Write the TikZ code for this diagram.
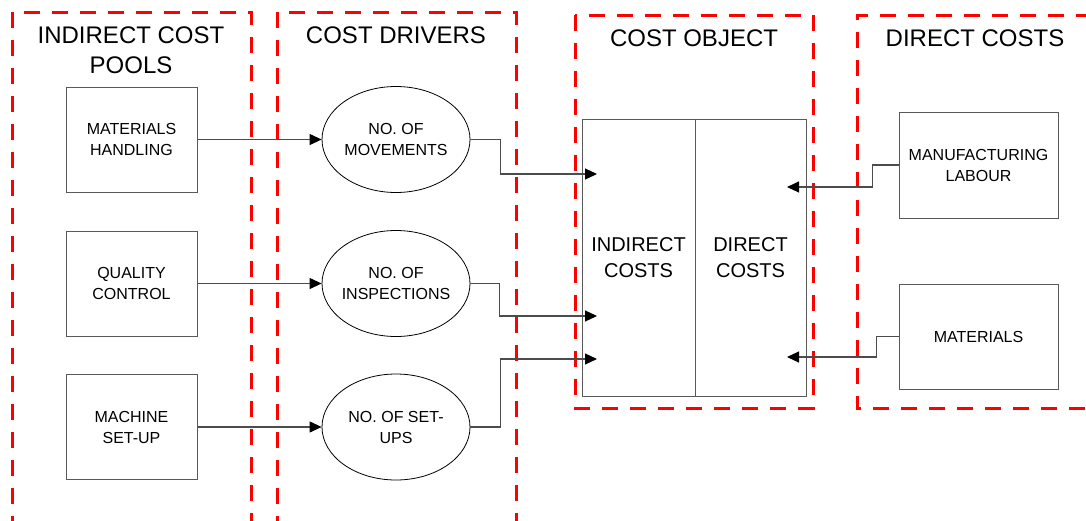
\documentclass[tikz,border=0pt]{standalone}
\usepackage{fontspec}
\setmainfont{Liberation Sans}
\usetikzlibrary{arrows.meta,shapes.geometric}
\begin{document}
\begin{tikzpicture}[x=1pt,y=-1pt,
  zone/.style={draw=red,line width=3pt,dash pattern=on 16pt off 12pt},
  box/.style={draw=black!65,line width=1pt,minimum width=131pt,minimum height=105pt,align=center,inner sep=0pt,font=\fontsize{16}{21}\selectfont},
  oval/.style={draw=black,line width=0.8pt,ellipse,minimum width=148pt,minimum height=106pt,inner xsep=-4pt,inner ysep=0pt,align=center,font=\fontsize{16}{21}\selectfont},
  half/.style={draw=black!65,line width=1pt,minimum height=277pt,align=center,inner sep=0pt,font=\fontsize{20}{26}\selectfont},
  conn/.style={draw=black!70,line width=1.1pt,-{Triangle[length=12pt,width=11pt,color=black]}},
  title/.style={font=\fontsize{24}{30}\selectfont,align=center,inner sep=0pt}]
\useasboundingbox (0,0) rectangle (1086,520);
\clip (0,0) rectangle (1086,520);
\fill[white] (0,0) rectangle (1086,520);
% zones
\draw[zone] (12,560) -- (12,12) -- (251,12) -- (251,560);
\draw[zone] (277,560) -- (277,12) -- (516,12) -- (516,560);
\draw[zone] (575,15) rectangle (813,408);
\draw[zone] (1120,15) -- (857,15) -- (857,408) -- (1120,408);
% titles
\node[title] (t1) at (131,50) {INDIRECT COST\\POOLS};
\node[title] (t2) at (396,35) {COST DRIVERS};
\node[title] (t3) at (694,38) {COST OBJECT};
\node[title] (t4) at (975,38) {DIRECT COSTS};
% pools
\node[box] (r1) at (131.5,139.5) {MATERIALS\\HANDLING};
\node[box] (r2) at (131.5,283.5) {QUALITY\\CONTROL};
\node[box] (r3) at (131.5,427) {MACHINE\\SET-UP};
% drivers
\node[oval] (e1) at (396,139.5) {NO. OF\\MOVEMENTS};
\node[oval] (e2) at (396,283.5) {NO. OF\\INSPECTIONS};
\node[oval] (e3) at (396,427) {NO. OF SET-\\UPS};
% cost object
\node[half,minimum width=113pt] (ind) at (638.5,257.5) {INDIRECT\\COSTS};
\node[half,minimum width=111pt] (dir) at (750.5,257.5) {DIRECT\\COSTS};
% direct costs
\node[box,minimum width=159pt,minimum height=106pt] (ml) at (978.5,165) {MANUFACTURING\\LABOUR};
\node[box,minimum width=159pt,minimum height=105pt] (mat) at (978.5,336.5) {MATERIALS};
% arrow targets
\coordinate (a1) at (597,174);
\coordinate (a2) at (597,316);
\coordinate (a3) at (597,359);
\coordinate (b1) at (787,187);
\coordinate (b2) at (787,357);
% connectors
\draw[conn] (r1.east) -- (e1.west);
\draw[conn] (r2.east) -- (e2.west);
\draw[conn] (r3.east) -- (e3.west);
\draw[conn] (e1.east) -- ([xshift=30pt]e1.east) |- (a1);
\draw[conn] (e2.east) -- ([xshift=29pt]e2.east) |- (a2);
\draw[conn] (e3.east) -- ([xshift=30pt]e3.east) |- (a3);
\draw[conn] (ml.west) -- ([xshift=-26pt]ml.west) |- (b1);
\draw[conn] (mat.west) -- ([xshift=-22pt]mat.west) |- (b2);
\end{tikzpicture}
\end{document}
